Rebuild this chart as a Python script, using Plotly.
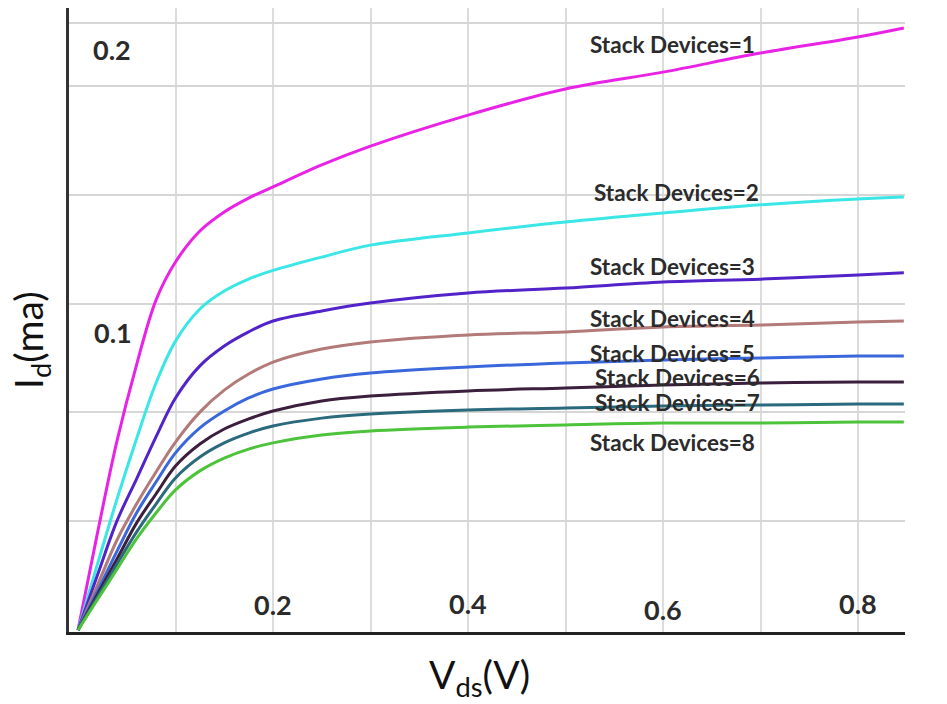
import plotly.graph_objects as go

# ---- data ----
vds = [0, 0.02, 0.04, 0.06, 0.08, 0.1, 0.125, 0.15, 0.175, 0.2, 0.25, 0.3, 0.4, 0.5, 0.6, 0.7, 0.8, 0.847]

id_stack1 = [0, 0.0357, 0.0695, 0.0974, 0.1213, 0.1353, 0.1467, 0.1537, 0.1588, 0.1629, 0.1710, 0.1779, 0.1893, 0.1989, 0.2051, 0.2121, 0.2180, 0.2213]
id_stack2 = [0, 0.0243, 0.0481, 0.0702, 0.0908, 0.1062, 0.1180, 0.1246, 0.1290, 0.1322, 0.1371, 0.1415, 0.1460, 0.1500, 0.1533, 0.1563, 0.1585, 0.1592]
id_stack3 = [0, 0.0202, 0.0401, 0.0555, 0.0710, 0.0853, 0.0971, 0.1044, 0.1096, 0.1136, 0.1173, 0.1202, 0.1239, 0.1257, 0.1279, 0.1290, 0.1305, 0.1313]
id_stack4 = [0, 0.0165, 0.0331, 0.0463, 0.0581, 0.0691, 0.0801, 0.0882, 0.0941, 0.0985, 0.1033, 0.1059, 0.1085, 0.1096, 0.1114, 0.1121, 0.1132, 0.1136]
id_stack5 = [0, 0.0143, 0.0290, 0.0430, 0.0544, 0.0651, 0.0743, 0.0805, 0.0853, 0.0886, 0.0923, 0.0945, 0.0967, 0.0982, 0.0993, 0.1000, 0.1007, 0.1007]
id_stack6 = [0, 0.0131, 0.0261, 0.0393, 0.0500, 0.0603, 0.0684, 0.0739, 0.0776, 0.0805, 0.0842, 0.0860, 0.0879, 0.0890, 0.0901, 0.0908, 0.0912, 0.0912]
id_stack7 = [0, 0.0121, 0.0243, 0.0360, 0.0463, 0.0559, 0.0636, 0.0688, 0.0724, 0.0750, 0.0779, 0.0794, 0.0809, 0.0816, 0.0824, 0.0827, 0.0831, 0.0831]
id_stack8 = [0, 0.0112, 0.0224, 0.0335, 0.0430, 0.0515, 0.0585, 0.0632, 0.0665, 0.0688, 0.0717, 0.0732, 0.0746, 0.0754, 0.0761, 0.0761, 0.0765, 0.0765]

series = [id_stack1, id_stack2, id_stack3, id_stack4, id_stack5, id_stack6, id_stack7, id_stack8]
series_names = ["Stack Devices=1", "Stack Devices=2", "Stack Devices=3", "Stack Devices=4",
                "Stack Devices=5", "Stack Devices=6", "Stack Devices=7", "Stack Devices=8"]

x_tick_labels = ["0.2", "0.4", "0.6", "0.8"]
x_tick_values = [0.2, 0.4, 0.6, 0.8]
y_tick_labels = ["0.2", "0.1"]
x_title = "V<sub>ds</sub>(V)"
y_title = "I<sub>d</sub>(ma)"

# ---- styles / positions ----
colors = ["#e823e6", "#3ae6e6", "#5223c8", "#b27a78", "#3a68dc", "#3b1f3d", "#2b6a7c", "#4cc33a"]
label_x = [0.523, 0.527, 0.523, 0.523, 0.523, 0.528, 0.528, 0.523]
label_y = [0.2151, 0.1610, 0.1335, 0.1147, 0.1018, 0.0930, 0.0835, 0.0688]
x_tick_label_y = [0.0092, 0.0099, 0.0074, 0.0096]
y_tick_label_x = [0.0349, 0.0360]
y_tick_label_y = [0.2136, 0.1092]
y_frame_top = 0.2232

fig = go.Figure()
for ys, name, col in zip(series, series_names, colors):
    fig.add_trace(go.Scatter(x=vds, y=ys, mode="lines", name=name,
                             line=dict(color=col, width=3, shape="spline", smoothing=1.0)))

label_font = dict(family="Lato", size=22.5, color="#2b2b2b")
for name, lx, ly in zip(series_names, label_x, label_y):
    fig.add_annotation(x=lx, y=ly, text="<b>" + name + "</b>", showarrow=False,
                       xanchor="left", yanchor="middle", font=label_font)

tick_font = dict(family="Lato", size=27, color="#2b2b2b")
for t, tx, ty in zip(x_tick_labels, x_tick_values, x_tick_label_y):
    fig.add_annotation(x=tx, y=ty, text="<b>" + t + "</b>", showarrow=False,
                       xanchor="center", yanchor="middle", font=tick_font)
for t, tx, ty in zip(y_tick_labels, y_tick_label_x, y_tick_label_y):
    fig.add_annotation(x=tx, y=ty, text="<b>" + t + "</b>", showarrow=False,
                       xanchor="center", yanchor="middle", font=tick_font)

title_font = dict(family="Lato", size=39, color="#111111")
fig.add_annotation(xref="paper", yref="paper", x=0.4916, y=-0.0721, text=x_title,
                   showarrow=False, xanchor="center", yanchor="middle", font=title_font)
fig.add_annotation(xref="paper", yref="paper", x=-0.0455, y=0.468, text=y_title, textangle=-90,
                   showarrow=False, xanchor="center", yanchor="middle", font=title_font)

fig.update_layout(
    width=947, height=704,
    margin=dict(l=69, r=42, t=8, b=72),
    paper_bgcolor="white", plot_bgcolor="white",
    showlegend=False,
    font=dict(family="Lato"),
)
fig.update_xaxes(
    range=[-0.00923, 0.8482],
    tickvals=[0.1, 0.2, 0.3, 0.4, 0.5, 0.6, 0.7, 0.8],
    showticklabels=False, ticks="",
    showgrid=True, gridcolor="#dcdcdc", gridwidth=2,
    zeroline=False,
    showline=True, linecolor="#222222", linewidth=3,
)
fig.update_yaxes(
    range=[-0.000735, 0.22868],
    tickvals=[0.04, 0.08, 0.12, 0.16, 0.2, y_frame_top],
    showticklabels=False, ticks="",
    showgrid=True, gridcolor="#d6d6d6", gridwidth=2,
    zeroline=False,
    showline=True, linecolor="#333333", linewidth=3,
)

fig.write_html("out.html")
